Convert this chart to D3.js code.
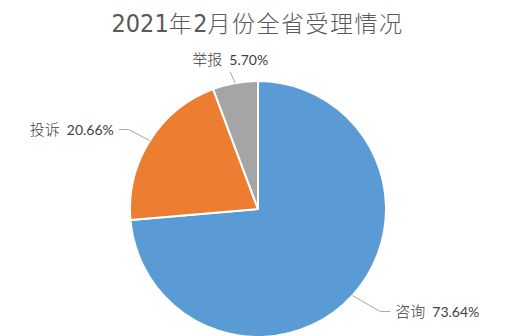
<!DOCTYPE html>
<html>
<head>
<meta charset="utf-8">
<script src="https://cdn.jsdelivr.net/npm/d3@7"></script>
<style>
  body { margin: 0; background: #fff; }
  text { font-family: "Lato", "Noto Sans CJK SC", sans-serif; }
</style>
</head>
<body>
<script>
// data
var categories = ["咨询", "投诉", "举报"];
var values = [73.64, 20.66, 5.70];
var colors = ["#5b9bd5", "#ed7d31", "#a5a5a5"];
var title = "2021年2月份全省受理情况";

var width = 515, height = 336;
var cx = 258, cy = 209, radius = 128;

var svg = d3.select("body").append("svg")
  .attr("width", width)
  .attr("height", height);

// title: digits in a narrow face, CJK a little spaced out
var titleText = svg.append("text")
  .attr("x", width / 2)
  .attr("y", 32)
  .attr("text-anchor", "middle")
  .attr("fill", "#595959");
title.match(/\d+|\D+/g).forEach(function (run) {
  var isNum = /^\d/.test(run);
  titleText.append("tspan")
    .style("font-family", isNum ? '"Liberation Sans Narrow", "DejaVu Sans Condensed", sans-serif' : '"Noto Sans CJK SC", sans-serif')
    .attr("font-size", isNum ? "25px" : "23px")
    .attr("font-weight", isNum ? 400 : 300)
    .attr("letter-spacing", isNum ? 0 : 1.5)
    .text(run);
});

var pie = d3.pie().sort(null).value(function (d) { return d; });
var arcs = pie(values);

var arc = d3.arc().innerRadius(0).outerRadius(radius);

var g = svg.append("g").attr("transform", "translate(" + cx + "," + cy + ")");

g.selectAll("path")
  .data(arcs)
  .enter()
  .append("path")
  .attr("d", arc)
  .attr("fill", function (d, i) { return colors[i]; })
  .attr("stroke", "#fff")
  .attr("stroke-width", 2)
  .attr("stroke-linejoin", "round");

// label layout: elbow offsets relative to the slice edge (layout only)
var layout = [
  { elbow: [28, 16], run: 10, anchor: "start" },
  { elbow: [-21, -11], run: -10, anchor: "end" },
  { elbow: [-5, -11], run: 0, anchor: "middle" }
];

function edge(d) {
  var a = (d.startAngle + d.endAngle) / 2;
  return [Math.sin(a) * radius, -Math.cos(a) * radius];
}

arcs.forEach(function (d, i) {
  var p0 = edge(d);
  var L = layout[i];
  var p1 = [p0[0] + L.elbow[0], p0[1] + L.elbow[1]];
  var p2 = [p1[0] + L.run, p1[1]];
  g.append("polyline")
    .attr("points", [p0, p1, p2].map(function (p) { return p.join(","); }).join(" "))
    .attr("fill", "none")
    .attr("stroke", "#a6a6a6")
    .attr("stroke-width", 1);

  var tx = p2[0] + (L.anchor === "start" ? 5 : L.anchor === "end" ? -5 : 0);
  var ty = L.anchor === "middle" ? p2[1] - 7 : p2[1] + 5;
  var t = g.append("text")
    .attr("x", tx)
    .attr("y", ty)
    .attr("text-anchor", L.anchor)
    .attr("fill", "#404040");
  t.append("tspan")
    .style("font-family", '"Noto Sans CJK SC", sans-serif')
    .attr("font-size", "15px")
    .attr("font-weight", 300)
    .text(categories[i]);
  t.append("tspan")
    .attr("dx", 7)
    .attr("font-size", "14px")
    .text(d3.format(".2f")(values[i]) + "%");
});
</script>
</body>
</html>
